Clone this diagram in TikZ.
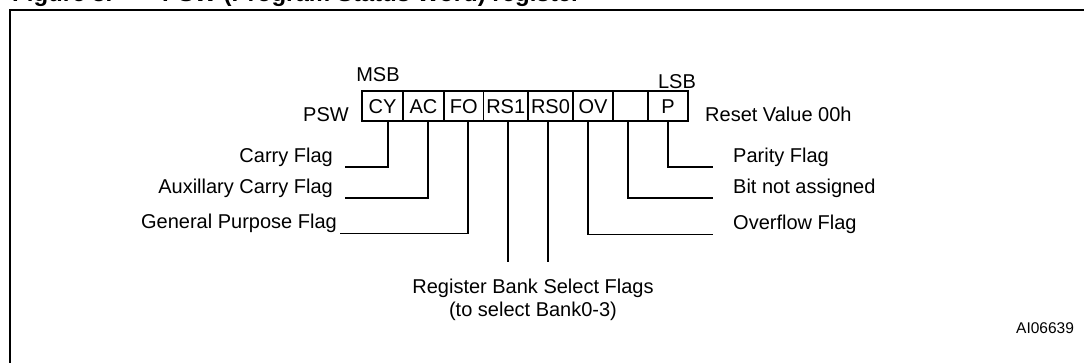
\documentclass[tikz,border=0pt]{standalone}
\usepackage{fontspec}
\setmainfont{Liberation Sans}
\begin{document}
\begin{tikzpicture}[x=1pt,y=-1pt,
  lbl/.style={font=\fontsize{20}{24}\selectfont, inner sep=0pt},
  ttl/.style={font=\fontsize{24}{28}\selectfont\bfseries, inner sep=0pt},
  small/.style={font=\fontsize{15.5}{18}\selectfont, inner sep=0pt},
  cell/.style={draw, line width=1.3pt, minimum height=30pt, inner sep=0pt,
    font=\fontsize{20}{24}\selectfont, text height=14.3pt, text depth=0pt},
  ln/.style={line width=1.3pt},
  frame/.style={line width=2pt}]
\useasboundingbox (0,0) rectangle (1084,362);
\clip (0,0) rectangle (1084,362);
% title (cut off at the top)
\node[ttl, anchor=base west] (fig) at (12,1.2) {Figure 3.};
\node[ttl, anchor=base west] (title) at (162,1.2) {PSW (Program Status Word) register};
% frame
\draw[frame] (10,400) -- (10,10) -- (1100,10);
% register cells
\node[cell, minimum width=41pt] (cy)  at (382.5,106) {CY};
\node[cell, minimum width=41pt] (ac)  at (423.5,106) {AC};
\node[cell, minimum width=39.5pt] (fo)  at (463.75,106) {FO};
\node[cell, minimum width=44.5pt] (rs1) at (505.75,106) {RS1};
\node[cell, minimum width=45pt] (rs0) at (550.5,106) {RS0};
\node[cell, minimum width=40pt] (ov)  at (593,106) {OV};
\node[cell, minimum width=35pt] (nb)  at (630.5,106) {};
\node[cell, minimum width=40pt] (p)   at (668,106) {P};
% header labels
\node[lbl, anchor=base] (msb) at (378,81) {MSB};
\node[lbl, anchor=base] (lsb) at (677,88) {LSB};
\node[lbl, anchor=base east] (psw) at (349,121) {PSW};
\node[lbl, anchor=base west] (reset) at (705,121) {Reset Value 00h};
% left labels
\node[lbl, anchor=base east] (carry) at (333,162) {Carry Flag};
\node[lbl, anchor=base east] (aux) at (333,193) {Auxillary Carry Flag};
\node[lbl, anchor=base east] (gp) at (337,228.5) {General Purpose Flag};
% right labels
\node[lbl, anchor=base west] (parity) at (733,162) {Parity Flag};
\node[lbl, anchor=base west] (bna) at (733,193) {Bit not assigned};
\node[lbl, anchor=base west] (ovf) at (733,229.5) {Overflow Flag};
% bottom labels
\node[lbl, anchor=base] (reg1) at (533,293) {Register Bank Select Flags};
\node[lbl, anchor=base] (reg2) at (533,316.5) {(to select Bank0-3)};
\node[small, anchor=base west] (id) at (1016,333.6) {AI06639};
% connectors
\coordinate (rs1end) at (508,262);
\coordinate (rs0end) at (548,262);
\draw[ln] ([xshift=5.5pt]cy.south) |- ([xshift=12pt,yshift=-5pt]carry.base east);
\draw[ln] ([xshift=4.5pt]ac.south) |- ([xshift=12pt,yshift=-5pt]aux.base east);
\draw[ln] ([xshift=4.25pt]fo.south) |- ([xshift=3pt,yshift=-5pt]gp.base east);
\draw[ln] ([xshift=2.25pt]rs1.south) -- (rs1end);
\draw[ln] ([xshift=-2.5pt]rs0.south) -- (rs0end);
\draw[ln] ([xshift=-5pt]ov.south) |- ([xshift=-20.5pt,yshift=-5pt]ovf.base west);
\draw[ln] ([xshift=-2.5pt]nb.south) |- ([xshift=-20.5pt,yshift=-5pt]bna.base west);
\draw[ln] (p.south) |- ([xshift=-20.5pt,yshift=-5pt]parity.base west);
\end{tikzpicture}
\end{document}
